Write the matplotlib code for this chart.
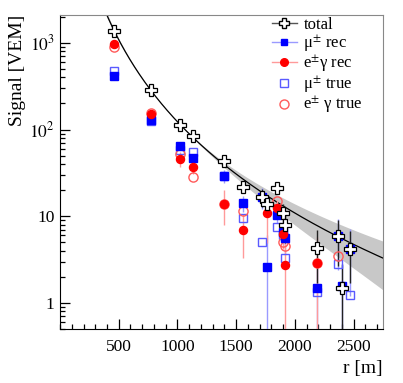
import numpy as np
import matplotlib
matplotlib.use("Agg")
import matplotlib.pyplot as plt
from matplotlib.lines import Line2D
from matplotlib.ticker import FixedLocator, MultipleLocator, LogLocator, NullFormatter

plt.rcParams['font.family'] = ['Liberation Serif', 'DejaVu Serif']
plt.rcParams['mathtext.fontset'] = 'stix'

# station distances [m]
r = np.array([457, 771, 1025, 1135, 1398, 1559, 1720, 1762, 1845, 1898, 1915, 2185, 2372, 2405, 2474])
nan = np.nan

# signals [VEM]
total     = np.array([1370, 283, 113, 85, 43.6, 21.8, 16.7, 13.9, 21.3, 11.0, 7.9, 4.3, 5.9, 1.5, 4.2])
total_err = np.array([30, 8, 4, 3, 3, 3, 4, 3, 2, 3, 3, 2.6, 3.2, 1.3, 2.5])
mu_rec     = np.array([415, 130, 65, 47, 29, 14.3, 16.7, 2.6, 10.4, 6.6, 5.6, 1.5, 5.9, 1.57, 4.2])
mu_rec_err = np.array([15, 8, 7, 5, 5, 3, 4.6, 3.5, 2, 2, 2, 1.5, 3.5, 1.2, 3.0])
em_rec     = np.array([970, 151, 46, 37, 13.9, 7.0, nan, 10.9, 12.5, 6.2, 2.75, 2.9, nan, nan, nan])
em_rec_err = np.array([25, 10, 9, 6, 6, 3.7, nan, 6, 3, 2, 2.5, 2.8, nan, nan, nan])
mu_true = np.array([474, 126, 58, 55, 29, 9.6, 5.1, nan, 7.5, 6.0, 3.3, 1.34, 2.8, nan, 1.23])
em_true = np.array([900, 155, 52, 28, 14, 11.5, nan, nan, 15.1, 5.0, 4.5, 2.9, 3.5, nan, nan])

# LDF fit: log10 S = a + b*u + c*u^2, u = log10(r/1000)
FIT_A, FIT_B, FIT_C = 2.09, -3.32, -0.59
BAND_K_OUT, BAND_K_IN = 2.9, 0.3

fig = plt.figure(figsize=(4.03, 3.83), dpi=100)
ax = fig.add_axes([0.149, 0.141, 0.801, 0.820])

rf = np.linspace(380, 2750, 300)
u = np.log10(rf / 1000.)
sf = 10 ** (FIT_A + FIT_B * u + FIT_C * u ** 2)
rel = np.where(u > 0, BAND_K_OUT * u ** 2, BAND_K_IN * u ** 2) + 0.01
ax.fill_between(rf, sf * (1 - rel), sf * (1 + rel), color='#c8c8c8', lw=0, zorder=1)
ax.plot(rf, sf, color='black', lw=0.9, zorder=2)

blue = '#0000ff'
red = '#ff0000'
ax.errorbar(r, mu_rec, yerr=mu_rec_err, fmt='none', ecolor='#9a9aff', elinewidth=1, capsize=0, zorder=3)
ax.errorbar(r, em_rec, yerr=em_rec_err, fmt='none', ecolor='#ff9a9a', elinewidth=1, capsize=0, zorder=3)
ax.errorbar(r, total, yerr=total_err, fmt='none', ecolor='#222222', elinewidth=1, capsize=0, zorder=3)

ax.plot(r, mu_true, ls='none', marker='s', ms=6.2, mfc='none', mec='#5a5aff', mew=1, zorder=4)
ax.plot(r, em_true, ls='none', marker='o', ms=6.6, mfc='none', mec='#ff5a5a', mew=1, zorder=4)
ax.plot(r, mu_rec, ls='none', marker='s', ms=5.2, color=blue, zorder=5)
ax.plot(r, em_rec, ls='none', marker='o', ms=5.8, color=red, zorder=5)
ax.plot(r, total, ls='none', marker='P', ms=8, mfc='white', mec='black', mew=0.9, zorder=6)

ax.set_yscale('log')
ax.set_xlim(0, 2750)
ax.set_ylim(0.5, 2100)

ax.xaxis.set_major_locator(FixedLocator([500, 1000, 1500, 2000, 2500]))
ax.xaxis.set_minor_locator(MultipleLocator(100))
ax.yaxis.set_major_locator(FixedLocator([1, 10, 100, 1000]))
ax.yaxis.set_minor_locator(LogLocator(base=10, subs=np.arange(2, 10)))
ax.yaxis.set_minor_formatter(NullFormatter())
ax.set_yticklabels(['1', '10', r'$10^2$', r'$10^3$'])

ax.tick_params(which='both', direction='in', top=False, right=False, labelsize=12.5, colors='black')
ax.tick_params(which='major', length=7, width=0.9)
ax.tick_params(which='minor', length=3.5, width=0.9)
ax.tick_params(axis='x', pad=7)
ax.tick_params(axis='y', pad=4)
for s in ['left', 'bottom']:
    ax.spines[s].set_color('black')
for s in ['top', 'right']:
    ax.spines[s].set_color('#888888')

ax.set_ylabel('Signal [VEM]', loc='top', fontsize=14)
ax.yaxis.set_label_coords(-0.105, 1.0)
ax.set_xlabel('r [m]', loc='right', fontsize=14)

handles = [
    Line2D([], [], color='#555555', lw=1, marker='P', ms=7.5, mfc='white', mec='black'),
    Line2D([], [], color='#9a9aff', lw=1, marker='s', ms=5, mfc=blue, mec=blue),
    Line2D([], [], color='#ff9a9a', lw=1, marker='o', ms=5.5, mfc=red, mec=red),
    Line2D([], [], ls='none', marker='s', ms=6, mfc='none', mec='#5a5aff'),
    Line2D([], [], ls='none', marker='o', ms=6.5, mfc='none', mec='#ff5a5a'),
]
labels = ['total', 'μ$^{\\pm}$ rec', 'e$^{\\pm}$γ rec', 'μ$^{\\pm}$ true', 'e$^{\\pm}$ γ true']
ax.legend(handles, labels, loc='upper left', bbox_to_anchor=(0.625, 1.025), frameon=False,
          fontsize=12, handlelength=1.5, labelspacing=-0.05, handletextpad=0.4, borderpad=0.1)

fig.savefig('out.png', dpi=100)
